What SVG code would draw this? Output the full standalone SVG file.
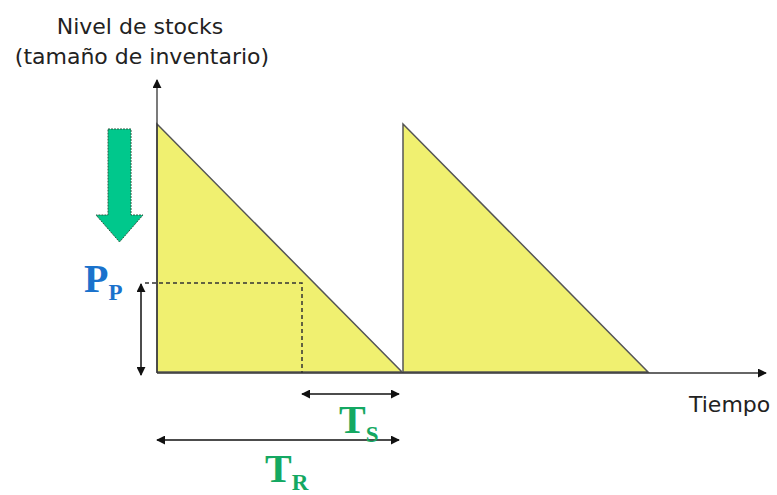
<svg xmlns="http://www.w3.org/2000/svg" width="777" height="495" viewBox="0 0 777 495">
<defs>
<marker id="ah" viewBox="0 0 10 10" refX="9" refY="5" markerWidth="9" markerHeight="9" markerUnits="userSpaceOnUse" orient="auto-start-reverse"><path d="M0,0 L10,5 L0,10 z" fill="#111"/></marker>
</defs>
<style>
.lbl{font-family:"DejaVu Sans",Verdana,sans-serif;fill:#222;font-size:22px}
.tri{fill:#f0f070;stroke:#555;stroke-width:1.5}
.ax{stroke:#333;stroke-width:1.3;fill:none}
.dim{stroke:#111;stroke-width:1.5;fill:none;marker-start:url(#ah);marker-end:url(#ah)}
.dash{stroke:#333;stroke-width:1.5;stroke-dasharray:4,3;fill:none}
.big{font-family:"Liberation Serif","Times New Roman",serif;font-weight:bold}
</style>
<g id="title">
<text class="lbl" x="140" y="34" text-anchor="middle">Nivel de stocks</text>
<text class="lbl" x="142" y="64" text-anchor="middle">(tamaño de inventario)</text>
</g>
<g id="tiempo"><text class="lbl" x="689" y="412" font-size="21">Tiempo</text></g>
<g id="cycle1"><polygon class="tri" points="157,124 402,372 157,372"/></g>
<g id="cycle2"><polygon class="tri" points="403,124 648,372 403,372"/></g>
<g id="connectors">
<line class="ax" x1="157" y1="373" x2="157" y2="80" marker-end="url(#ah)"/>
<line class="ax" x1="157" y1="373" x2="766" y2="373" marker-end="url(#ah)"/>
<polyline class="dash" points="145,283 302,283 302,373"/>
<line class="dim" x1="141" y1="284" x2="141" y2="375"/>
<line class="dim" x1="302" y1="394" x2="399" y2="394"/>
<line class="dim" x1="157" y1="440" x2="399" y2="440"/>
</g>
<g id="demand-arrow">
<polygon points="108,129 131,129 131,215 143,215 119.5,242 96,215 108,215" fill="#00c88c" stroke="#2a5a40" stroke-width="1" stroke-dasharray="2,1"/>
</g>
<g id="pp-label">
<text class="big" x="84" y="292" font-size="40" fill="#1a72cc">P<tspan font-size="23" dy="8">P</tspan></text>
</g>
<g id="ts-label">
<text class="big" x="339" y="433" font-size="40" fill="#14a862">T<tspan font-size="23" dy="9">S</tspan></text>
</g>
<g id="tr-label">
<text class="big" x="265" y="482" font-size="40" fill="#14a862">T<tspan font-size="23" dy="8">R</tspan></text>
</g>
</svg>
